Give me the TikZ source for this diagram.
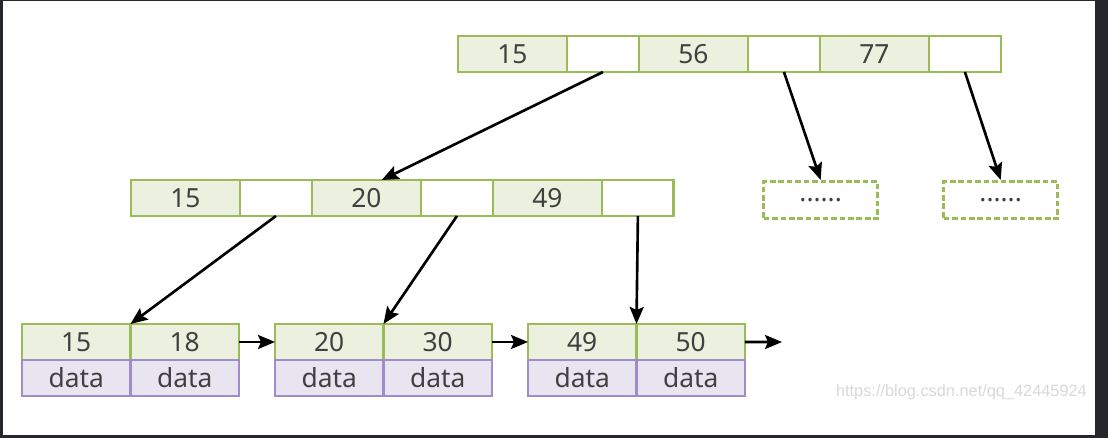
\documentclass[tikz,border=0pt]{standalone}
\usepackage{fontspec}
\setmainfont{Noto Sans}
\newfontfamily\markfont{Liberation Sans}
\usetikzlibrary{positioning,arrows.meta,calc}
\definecolor{keyfill}{HTML}{EBF1DE}
\definecolor{keyline}{HTML}{9BBB59}
\definecolor{datafill}{HTML}{E9E5F0}
\definecolor{dataline}{HTML}{9F8DC9}
\definecolor{numtext}{HTML}{404040}
\definecolor{screen}{HTML}{26262C}
\begin{document}
\begin{tikzpicture}[x=0.02cm,y=-0.02cm,
  cell/.style={draw=keyline,line width=1.6pt,minimum height=0.72cm,inner sep=0pt,outer sep=0pt,
    text=numtext,font=\fontsize{15}{15}\selectfont},
  key/.style={cell,fill=keyfill,minimum width=2.18cm},
  ptr/.style={cell,fill=white,minimum width=1.44cm},
  leafkey/.style={cell,fill=keyfill,minimum width=2.17cm},
  leafdata/.style={cell,draw=dataline,fill=datafill,minimum width=2.17cm},
  more/.style={draw=keyline,line width=1.9pt,dash pattern=on 3.2pt off 1.6pt,minimum width=2.28cm,
    minimum height=0.74cm,inner sep=0pt,text=numtext,font=\fontsize{15}{15}\selectfont},
  link/.style={line width=1.5pt,-{Stealth[length=0.34cm,width=0.28cm,inset=0.06cm]}}]
\fill[screen] (0,0) rectangle (1108,438);
\fill[white] (3,1) rectangle (1095,435);
\node[key,anchor=north west] (t15) at (458,36) {15};
\node[ptr,right=0pt of t15] (tp1) {};
\node[key,right=0pt of tp1] (t56) {56};
\node[ptr,right=0pt of t56] (tp2) {};
\node[key,right=0pt of tp2] (t77) {77};
\node[ptr,right=0pt of t77] (tp3) {};
\node[key,anchor=north west] (m15) at (131,180) {15};
\node[ptr,right=0pt of m15] (mp1) {};
\node[key,right=0pt of mp1] (m20) {20};
\node[ptr,right=0pt of m20] (mp2) {};
\node[key,right=0pt of mp2] (m49) {49};
\node[ptr,right=0pt of m49] (mp3) {};
\node[more,anchor=north west] (more1) at (762,180) {......};
\node[more,anchor=north west] (more2) at (942,180) {......};
\node[leafkey,anchor=north west] (l15) at (22,324) {15};
\node[leafkey,right=0pt of l15] (l18) {18};
\node[leafdata,below=0pt of l15] (d15) {data};
\node[leafdata,below=0pt of l18] (d18) {data};
\node[leafkey,anchor=north west] (l20) at (275,324) {20};
\node[leafkey,right=0pt of l20] (l30) {30};
\node[leafdata,below=0pt of l20] (d20) {data};
\node[leafdata,below=0pt of l30] (d30) {data};
\node[leafkey,anchor=north west] (l49) at (528,324) {49};
\node[leafkey,right=0pt of l49] (l50) {50};
\node[leafdata,below=0pt of l49] (d49) {data};
\node[leafdata,below=0pt of l50] (d50) {data};
\coordinate (next) at (782,342);
\draw[link] (tp1.south) -- ($(m20.north west)!0.64!(m20.north east)$);
\draw[link] (tp2.south) -- (more1.north);
\draw[link] (tp3.south) -- (more2.north);
\draw[link] (mp1.south) -- (l18.north west);
\draw[link] (mp2.south) -- (l30.north west);
\draw[link] (mp3.south) -- (l50.north west);
\draw[link] (l18.east) -- (l20.west);
\draw[link] (l30.east) -- (l49.west);
\draw[link] (l50.east) -- (next);
\node[anchor=base east,text=gray!30,font=\markfont\fontsize{9.3}{9.3}\selectfont] (mark) at (1093,397) {https://blog.csdn.net/qq\_42445924};
\end{tikzpicture}
\end{document}
